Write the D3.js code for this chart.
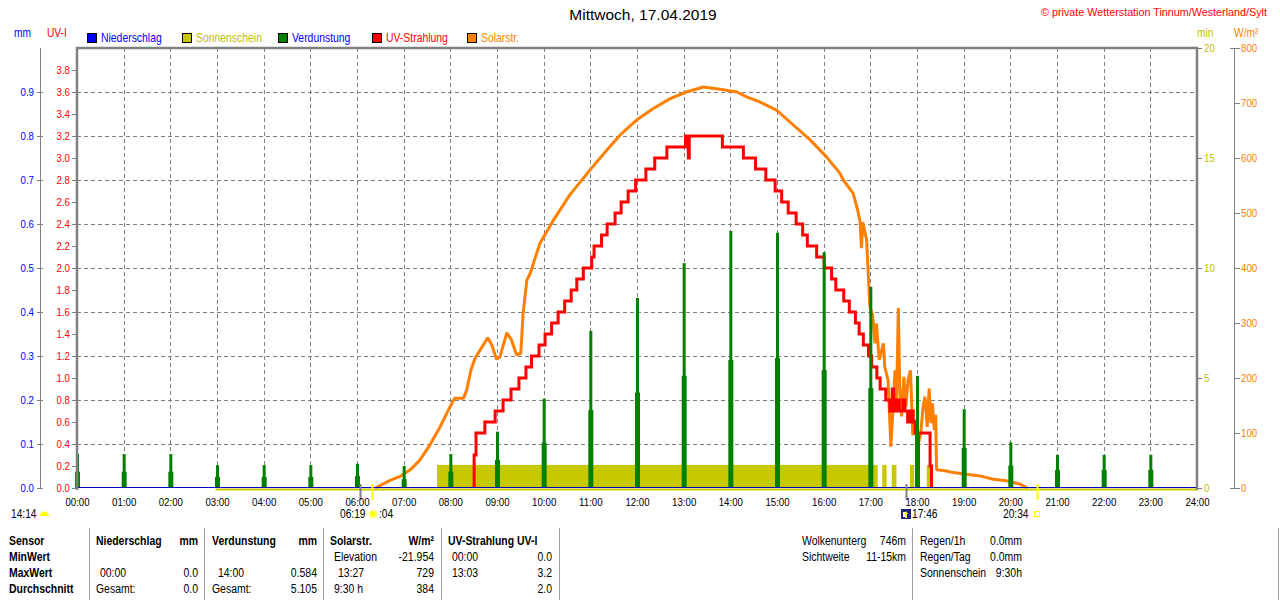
<!DOCTYPE html>
<html>
<head>
<meta charset="utf-8">
<script src="https://cdn.jsdelivr.net/npm/d3@7"></script>
<style>
    body { margin: 0; background: #fff; }
    svg { display: block; font-family: "Liberation Sans", Arial, sans-serif; }
    .grid line { stroke: #808080; stroke-width: 1; stroke-dasharray: 4,3; shape-rendering: crispEdges; }
    .axis path, .axis line { stroke: #808080; shape-rendering: crispEdges; }
    .axis text { font-size: 11px; }
    .tbl { font-size: 12px; fill: #000; }
    .tbl.b { font-weight: bold; }
</style>
</head>
<body>
<script>
(function(){

    //hour tick labels
    var hourTicks = [0,1,2,3,4,5,6,7,8,9,10,11,12,13,14,15,16,17,18,19,20,21,22,23,24];
    var hourLabels = ["00:00","01:00","02:00","03:00","04:00","05:00","06:00","07:00","08:00","09:00","10:00","11:00","12:00",
                      "13:00","14:00","15:00","16:00","17:00","18:00","19:00","20:00","21:00","22:00","23:00","24:00"];

    //axis ticks
    var mmTicks = [0,0.1,0.2,0.3,0.4,0.5,0.6,0.7,0.8,0.9];
    var uvTicks = [0,0.2,0.4,0.6,0.8,1.0,1.2,1.4,1.6,1.8,2.0,2.2,2.4,2.6,2.8,3.0,3.2,3.4,3.6,3.8];
    var uvGrid = [0.4,0.8,1.2,1.6,2.0,2.4,2.8,3.2,3.6];
    var minTicks = [0,5,10,15,20];
    var solTicks = [0,100,200,300,400,500,600,700,800];

    //Verdunstung (mm) per hour, main and second reading
    var evapHours = [0,1,2,3,4,5,6,7,8,9,10,11,12,13,14,15,16,17,18,19,20,21,22,23];
    var evapMain = [0.077,0.077,0.077,0.052,0.052,0.052,0.055,0.05,0.077,0.128,0.203,0.357,0.432,0.511,0.584,0.58,0.536,0.457,0.255,0.179,0.104,0.075,0.075,0.075];
    var evapSecond = [0.037,0.037,0.037,0.025,0.025,0.025,0.027,0.02,0.037,0.064,0.103,0.177,0.217,0.255,0.291,0.295,0.268,0.227,0.125,0.091,0.051,0.041,0.041,0.041];

    //Sonnenschein (min) blocks
    var sunStart = [7.714, 17.254, 17.46, 17.85, 18.21];
    var sunEnd = [17.157, 17.349, 17.56, 17.94, 18.28];
    var sunMinutes = [1.05, 1.05, 1.05, 1.05, 1.05];
    var sunLineStart = 2.97;

    //UV-Strahlung (UV-I) step changes
    var uvTimes = [8.51,8.51,8.55,8.74,8.96,9.13,9.30,9.47,9.62,9.74,9.90,10.03,10.17,10.31,10.45,10.59,10.71,10.85,11.03,11.08,11.24,
                   11.36,11.53,11.66,11.81,11.97,12.19,12.38,12.64,13.04,13.10,13.12,13.83,14.28,14.54,14.76,14.96,15.10,15.24,15.41,
                   15.55,15.65,15.85,16.01,16.17,16.26,16.43,16.55,16.68,16.76,16.85,16.96,17.03,17.14,17.21,17.33,17.42,17.47,17.50,
                   17.56,17.62,17.70,17.74,17.80,17.86,17.92,17.96,18.28,18.31];
    var uvValues = [0,0.3,0.5,0.6,0.7,0.8,0.9,1.0,1.1,1.2,1.3,1.4,1.5,1.6,1.7,1.8,1.9,2.0,2.1,2.2,2.3,
                    2.4,2.5,2.6,2.7,2.8,2.9,3.0,3.1,3.2,3.0,3.2,3.1,3.0,2.9,2.8,2.7,2.6,2.5,2.4,
                    2.3,2.2,2.1,2.0,1.9,1.8,1.7,1.6,1.5,1.4,1.3,1.2,1.1,1.0,0.9,0.8,0.7,0.9,0.7,
                    0.8,0.7,0.8,0.7,0.6,0.7,0.6,0.5,0.2,0];

    //Solarstrahlung (W/m²)
    var solTimes = [6.39,6.71,6.92,7.14,7.35,7.56,7.78,7.96,8.09,8.28,8.35,8.44,8.53,8.80,8.89,8.99,9.06,9.21,9.31,9.42,9.51,9.56,9.64,
                    9.71,9.92,10.21,10.56,10.99,11.35,11.64,11.99,12.35,12.71,13.06,13.42,13.78,14.14,14.35,14.63,14.99,15.35,15.71,
                    16.06,16.35,16.42,16.63,16.73,16.78,16.81,16.84,16.92,16.96,16.99,17.05,17.10,17.13,17.19,17.28,17.31,17.38,17.44,
                    17.48,17.53,17.56,17.60,17.63,17.67,17.72,17.76,17.81,17.86,17.91,17.96,18.03,18.08,18.13,18.17,18.22,18.26,18.30,
                    18.33,18.37,18.40,18.42,18.63,18.78,19.06,19.35,19.63,19.92,20.21,20.36];
    var solValues = [0,14,21,33,51,78,111,142,163,163,178,214,236,273,260,234,238,282,269,242,245,318,378,
                     390,445,487,533,578,614,642,669,690,708,720,729,725,720,711,702,687,660,633,
                     602,572,560,536,505,484,436,483,451,381,330,314,263,299,233,263,220,196,75,
                     136,214,148,327,184,130,202,148,196,214,96,124,81,99,148,166,111,181,118,
                     154,105,133,33,31,28,25,22,16,13,7,0];

    //sun and moon marks
    var sunMarks = [6.317, 20.567];
    var moonMarks = [6.067, 17.767];

    //legend
    var legendNames = ["Niederschlag","Sonnenschein","Verdunstung","UV-Strahlung","Solarstr."];
    var legendFill = ["#0000ff","#c8c800","#008000","#ff0000","#ff8000"];
    var legendText = ["#0000ff","#c0c000","#0000ff","#ff0000","#ff8000"];

    window.onload = setChart();

    //squeeze text horizontally, the original uses a narrow bitmap font
    function narrow(sel, k){
        sel.each(function(){
            var len = this.getComputedTextLength();
            d3.select(this)
                .attr("textLength", len * k)
                .attr("lengthAdjust", "spacingAndGlyphs");
        });
    };

    function setChart(){
        var width = 1280, height = 600,
            left = 77, right = 1197, top = 48, bottom = 488;

        var svg = d3.select("body").append("svg")
            .attr("width", width)
            .attr("height", height);

        var x = d3.scaleLinear().domain([0, 24]).range([left, right]);
        var yMM = d3.scaleLinear().domain([0, 1]).range([bottom, top]);
        var yUV = d3.scaleLinear().domain([0, 4]).range([bottom, top]);
        var yMin = d3.scaleLinear().domain([0, 20]).range([bottom, top]);
        var ySol = d3.scaleLinear().domain([0, 800]).range([bottom, top]);

        //title
        svg.append("text").attr("x", 643).attr("y", 20)
            .attr("text-anchor", "middle")
            .style("font-size", "15.5px")
            .text("Mittwoch, 17.04.2019");

        svg.append("text").attr("x", 1041).attr("y", 16)
            .attr("textLength", 226)
            .attr("lengthAdjust", "spacingAndGlyphs")
            .style("font-size", "11px").style("fill", "#ff0000")
            .text("\u00a9 private Wetterstation Tinnum/Westerland/Sylt");

        //unit labels
        var units = [["mm", 14, "#0000ff"], ["UV-I", 47, "#ff0000"],
                     ["min", 1197, "#c0c000"], ["W/m\u00b2", 1234, "#ff8000"]];
        var unitText = svg.selectAll(".unit").data(units).enter().append("text")
            .attr("class", "unit")
            .attr("x", function(d){ return d[1]; })
            .attr("y", 37)
            .style("font-size", "12px")
            .style("fill", function(d){ return d[2]; })
            .text(function(d){ return d[0]; });
        narrow(unitText, 0.85);

        //legend
        var legendX = [87, 182, 278, 372, 467];
        var legend = svg.selectAll(".legend").data(legendNames).enter().append("g")
            .attr("class", "legend")
            .attr("transform", function(d, i){ return "translate(" + legendX[i] + ",0)"; });
        legend.append("rect")
            .attr("x", 0.5).attr("y", 33.5).attr("width", 9).attr("height", 9)
            .style("fill", function(d, i){ return legendFill[i]; })
            .style("stroke", "#000");
        var legendLabels = legend.append("text")
            .attr("x", 14).attr("y", 42)
            .style("font-size", "13px")
            .style("fill", function(d, i){ return legendText[i]; })
            .text(function(d){ return d; });
        narrow(legendLabels, 0.8);

        //grid lines
        var grid = svg.append("g").attr("class", "grid");
        grid.selectAll(".vg").data(hourTicks.slice(1, 24)).enter().append("line")
            .attr("x1", function(d){ return Math.round(x(d)) + 0.5; })
            .attr("x2", function(d){ return Math.round(x(d)) + 0.5; })
            .attr("y1", top).attr("y2", bottom);
        grid.selectAll(".hg").data(uvGrid).enter().append("line")
            .attr("x1", left).attr("x2", right)
            .attr("y1", function(d){ return Math.round(yUV(d)) + 0.5; })
            .attr("y2", function(d){ return Math.round(yUV(d)) + 0.5; });

        //sunshine blocks
        svg.selectAll(".sun").data(sunStart).enter().append("rect")
            .attr("class", "sun")
            .attr("x", function(d){ return x(d); })
            .attr("width", function(d, i){ return x(sunEnd[i]) - x(d); })
            .attr("y", function(d, i){ return yMin(sunMinutes[i]); })
            .attr("height", function(d, i){ return bottom - yMin(sunMinutes[i]); })
            .style("fill", "#c8c800");

        //solar radiation line
        var solLine = d3.line()
            .x(function(d){ return x(d); })
            .y(function(d, i){ return ySol(solValues[i]); });
        svg.append("path")
            .datum(solTimes)
            .attr("d", solLine)
            .style("fill", "none")
            .style("stroke", "#ff8000")
            .style("stroke-width", 3)
            .style("stroke-linejoin", "bevel");

        //uv step line
        var uvLine = d3.line()
            .curve(d3.curveStepAfter)
            .x(function(d){ return x(d); })
            .y(function(d, i){ return yUV(uvValues[i]); });
        svg.append("path")
            .datum(uvTimes)
            .attr("d", uvLine)
            .style("fill", "none")
            .style("stroke", "#ff0000")
            .style("stroke-width", 3);

        //evaporation bars
        svg.selectAll(".evap2").data(evapHours).enter().append("rect")
            .attr("class", "evap2")
            .attr("x", function(d){ return x(d) - 2; })
            .attr("width", 5)
            .attr("y", function(d, i){ return yMM(evapSecond[i]); })
            .attr("height", function(d, i){ return bottom - yMM(evapSecond[i]); })
            .style("fill", "#008000");
        svg.selectAll(".evap").data(evapHours).enter().append("rect")
            .attr("class", "evap")
            .attr("x", function(d){ return x(d) - 1; })
            .attr("width", 3)
            .attr("y", function(d, i){ return yMM(evapMain[i]); })
            .attr("height", function(d, i){ return bottom - yMM(evapMain[i]); })
            .style("fill", "#008000");

        //baseline for sunshine and precipitation
        svg.append("line")
            .attr("x1", x(sunLineStart)).attr("x2", right)
            .attr("y1", 489.5).attr("y2", 489.5)
            .style("stroke", "#c8c800").style("stroke-width", 2);
        svg.append("line")
            .attr("x1", left).attr("x2", right)
            .attr("y1", 487.5).attr("y2", 487.5)
            .style("stroke", "#0000c0").style("stroke-width", 1);

        //frame
        svg.append("path")
            .attr("d", "M" + left + "," + (bottom + 2) + "V" + top + "H" + right + "V" + (bottom + 2))
            .style("fill", "none")
            .style("stroke", "#808080")
            .style("stroke-width", 2.5);

        //sun and moon marks
        svg.selectAll(".sunm").data(sunMarks).enter().append("line")
            .attr("x1", function(d){ return Math.round(x(d)) + 0.5; })
            .attr("x2", function(d){ return Math.round(x(d)) + 0.5; })
            .attr("y1", 484).attr("y2", 500)
            .style("stroke", "#ffff00").style("stroke-width", 2);
        svg.selectAll(".moonm").data(moonMarks).enter().append("line")
            .attr("x1", function(d){ return Math.round(x(d)) + 0.5; })
            .attr("x2", function(d){ return Math.round(x(d)) + 0.5; })
            .attr("y1", 484).attr("y2", 500)
            .style("stroke", "#808080").style("stroke-width", 2);

        //mm axis
        var fmt1 = d3.format(".1f");
        var mmAxis = svg.append("g").attr("class", "axis")
            .attr("transform", "translate(43,0)")
            .call(d3.axisLeft(yMM).tickValues(mmTicks).tickFormat(fmt1).tickSize(6).tickPadding(3));
        mmAxis.select(".domain").remove();
        mmAxis.selectAll("text").style("fill", "#0000ff");
        svg.append("line").attr("x1", 40.5).attr("x2", 40.5).attr("y1", top).attr("y2", bottom)
            .style("stroke", "#808080");

        //uv axis
        var uvAxis = svg.append("g").attr("class", "axis")
            .attr("transform", "translate(" + left + ",0)")
            .call(d3.axisLeft(yUV).tickValues(uvTicks).tickFormat(fmt1).tickSize(5).tickPadding(2));
        uvAxis.select(".domain").remove();
        uvAxis.selectAll("text").style("fill", "#ff0000");

        //min axis
        var minAxis = svg.append("g").attr("class", "axis")
            .attr("transform", "translate(" + right + ",0)")
            .call(d3.axisRight(yMin).tickValues(minTicks).tickSize(5).tickPadding(2));
        minAxis.select(".domain").remove();
        minAxis.selectAll("text").style("fill", "#c0c000");

        //solar axis
        var solAxis = svg.append("g").attr("class", "axis")
            .attr("transform", "translate(1234,0)")
            .call(d3.axisRight(ySol).tickValues(solTicks).tickSize(6).tickSizeOuter(0).tickPadding(1));
        solAxis.select(".domain").attr("d", "M0.5," + top + "V" + bottom);
        solAxis.selectAll("text").style("fill", "#ff8000");
        solAxis.append("line").attr("x1", -4).attr("x2", 0).attr("y1", top + 0.5).attr("y2", top + 0.5);
        solAxis.append("line").attr("x1", -4).attr("x2", 0).attr("y1", bottom + 0.5).attr("y2", bottom + 0.5);

        //time axis
        var xAxis = svg.append("g").attr("class", "axis")
            .attr("transform", "translate(0," + bottom + ")")
            .call(d3.axisBottom(x).tickValues(hourTicks)
                .tickFormat(function(d, i){ return hourLabels[i]; })
                .tickSize(0).tickPadding(10));
        xAxis.select(".domain").remove();
        xAxis.selectAll("text").style("fill", "#000");

        narrow(svg.selectAll(".axis text"), 0.88);

        //sun / moon times
        var marks = svg.append("g").style("font-size", "12px");
        marks.append("text").attr("x", 11).attr("y", 518).text("14:14");
        marks.append("path").attr("d", "M40,516 A4.5,4.5 0 0 1 49,516 Z").style("fill", "#ffff00");
        marks.append("text").attr("x", 340).attr("y", 518).text("06:19");
        marks.append("circle").attr("cx", 373).attr("cy", 514).attr("r", 3.5).style("fill", "#ffff00")
            .style("stroke", "#ffff80").style("stroke-width", 2);
        marks.append("text").attr("x", 379).attr("y", 518).text(":04");
        marks.append("rect").attr("x", 901).attr("y", 509).attr("width", 10).attr("height", 10).style("fill", "#202080");
        marks.append("path").attr("d", "M903,512 h4 v5 h-4 Z").style("fill", "#ffffff");
        marks.append("path").attr("d", "M906,511 l2,3 h-1 v4 h-2 v-4 h-1 Z").style("fill", "#ffff00");
        marks.append("text").attr("x", 912).attr("y", 518).text("17:46");
        marks.append("text").attr("x", 1003).attr("y", 518).text("20:34");
        marks.append("rect").attr("x", 1034.5).attr("y", 511.5).attr("width", 5).attr("height", 5)
            .style("fill", "none").style("stroke", "#ffff00");
        narrow(marks.selectAll("text"), 0.85);

        setTable(svg);
    };

    function setTable(svg){
        var rowY = [545, 561, 577, 593];
        var seps = [89.5, 204.5, 323.5, 441.5, 559.5, 912.5, 1278.5];
        svg.selectAll(".sep").data(seps).enter().append("line")
            .attr("x1", function(d){ return d; }).attr("x2", function(d){ return d; })
            .attr("y1", 528).attr("y2", 600)
            .style("stroke", "#a0a0a0");

        //[text, x, row, anchor, bold]
        var cells = [
            ["Sensor", 9, 0, "start", 1], ["MinWert", 9, 1, "start", 1], ["MaxWert", 9, 2, "start", 1], ["Durchschnitt", 9, 3, "start", 1],
            ["Niederschlag", 96, 0, "start", 1], ["mm", 198, 0, "end", 1],
            ["00:00", 100, 2, "start", 0], ["0.0", 198, 2, "end", 0],
            ["Gesamt:", 96, 3, "start", 0], ["0.0", 198, 3, "end", 0],
            ["Verdunstung", 212, 0, "start", 1], ["mm", 317, 0, "end", 1],
            ["14:00", 218, 2, "start", 0], ["0.584", 317, 2, "end", 0],
            ["Gesamt:", 212, 3, "start", 0], ["5.105", 317, 3, "end", 0],
            ["Solarstr.", 330, 0, "start", 1], ["W/m\u00b2", 434, 0, "end", 1],
            ["Elevation", 334, 1, "start", 0], ["-21.954", 434, 1, "end", 0],
            ["13:27", 338, 2, "start", 0], ["729", 434, 2, "end", 0],
            ["9:30 h", 334, 3, "start", 0], ["384", 434, 3, "end", 0],
            ["UV-Strahlung UV-I", 448, 0, "start", 1],
            ["00:00", 452, 1, "start", 0], ["0.0", 552, 1, "end", 0],
            ["13:03", 452, 2, "start", 0], ["3.2", 552, 2, "end", 0],
            ["2.0", 552, 3, "end", 0],
            ["Wolkenunterg", 802, 0, "start", 0], ["746m", 906, 0, "end", 0],
            ["Sichtweite", 802, 1, "start", 0], ["11-15km", 906, 1, "end", 0],
            ["Regen/1h", 920, 0, "start", 0], ["0.0mm", 1022, 0, "end", 0],
            ["Regen/Tag", 920, 1, "start", 0], ["0.0mm", 1022, 1, "end", 0],
            ["Sonnenschein", 920, 2, "start", 0], ["9:30h", 1022, 2, "end", 0]
        ];
        var cellText = svg.selectAll(".tbl").data(cells).enter().append("text")
            .attr("class", function(d){ return d[4] ? "tbl b" : "tbl"; })
            .attr("x", function(d){ return d[1]; })
            .attr("y", function(d){ return rowY[d[2]]; })
            .attr("text-anchor", function(d){ return d[3]; })
            .text(function(d){ return d[0]; });
        narrow(cellText, 0.87);
    };

})();
</script>
</body>
</html>
